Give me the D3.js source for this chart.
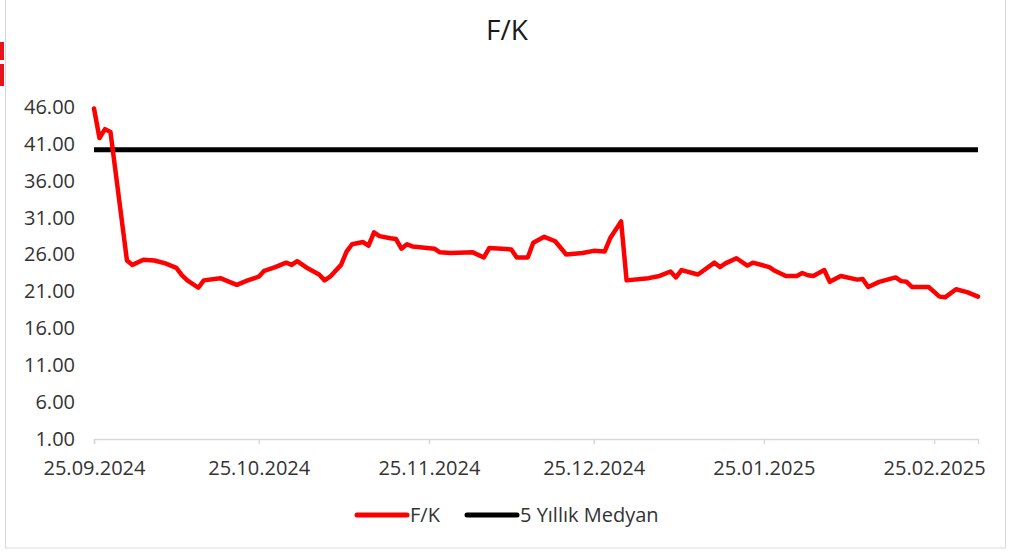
<!DOCTYPE html>
<html>
    <head>
        <meta charset="utf-8">
        <title>F/K</title>
        <script type="text/javascript" src="https://cdn.jsdelivr.net/npm/d3@7"></script>
        <style>
            body { margin: 0; background: #fff; }
            text { font-family: "Open Sans", "Liberation Sans", sans-serif; }
        </style>
    </head>
    <body>
        <script type="text/javascript">
            // veriler
            var dates = [
                '2024-09-25', '2024-09-26', '2024-09-27', '2024-09-28', '2024-10-01', '2024-10-02',
                '2024-10-04', '2024-10-06', '2024-10-08', '2024-10-10', '2024-10-11', '2024-10-12',
                '2024-10-14', '2024-10-15', '2024-10-18', '2024-10-21', '2024-10-23', '2024-10-25',
                '2024-10-26', '2024-10-28', '2024-10-30', '2024-10-31', '2024-11-01', '2024-11-03',
                '2024-11-05', '2024-11-06', '2024-11-07', '2024-11-09', '2024-11-10', '2024-11-11',
                '2024-11-13', '2024-11-14', '2024-11-15', '2024-11-16', '2024-11-18', '2024-11-19',
                '2024-11-20', '2024-11-21', '2024-11-22', '2024-11-26', '2024-11-27', '2024-11-29',
                '2024-12-03', '2024-12-05', '2024-12-06', '2024-12-10', '2024-12-11', '2024-12-13',
                '2024-12-14', '2024-12-16', '2024-12-18', '2024-12-20', '2024-12-23', '2024-12-25',
                '2024-12-27', '2024-12-28', '2024-12-30', '2024-12-31', '2025-01-04', '2025-01-06',
                '2025-01-08', '2025-01-09', '2025-01-10', '2025-01-13', '2025-01-16', '2025-01-17',
                '2025-01-18', '2025-01-20', '2025-01-22', '2025-01-23', '2025-01-26', '2025-01-27',
                '2025-01-29', '2025-01-31', '2025-02-01', '2025-02-02', '2025-02-03', '2025-02-05',
                '2025-02-06', '2025-02-08', '2025-02-11', '2025-02-12', '2025-02-13', '2025-02-15',
                '2025-02-18', '2025-02-19', '2025-02-20', '2025-02-21', '2025-02-24', '2025-02-26',
                '2025-02-27', '2025-03-01', '2025-03-03', '2025-03-05'
            ];
            var fk = [
                45.8, 41.8, 43.0, 42.6, 25.2, 24.6,
                25.3, 25.2, 24.8, 24.2, 23.2, 22.5,
                21.5, 22.5, 22.8, 21.9, 22.5, 23.0,
                23.8, 24.3, 24.9, 24.6, 25.1, 24.1,
                23.3, 22.5, 23.0, 24.6, 26.4, 27.4,
                27.7, 27.2, 29.0, 28.5, 28.2, 28.1,
                26.8, 27.4, 27.1, 26.8, 26.3, 26.2,
                26.3, 25.6, 26.9, 26.7, 25.6, 25.6,
                27.6, 28.4, 27.8, 26.0, 26.2, 26.5,
                26.4, 28.2, 30.5, 22.5, 22.8, 23.1,
                23.7, 22.9, 23.9, 23.3, 24.9, 24.3,
                24.8, 25.5, 24.5, 24.9, 24.3, 23.8,
                23.1, 23.1, 23.5, 23.2, 23.1, 23.9,
                22.3, 23.1, 22.6, 22.7, 21.6, 22.3,
                22.9, 22.4, 22.3, 21.6, 21.6, 20.3,
                20.2, 21.3, 20.9, 20.3
            ];
            var medyan = 40.2;
            var yTicks = [1, 6, 11, 16, 21, 26, 31, 36, 41, 46];
            var xTicks = ['2024-09-25', '2024-10-25', '2024-11-25', '2024-12-25', '2025-01-25', '2025-02-25'];
            var legendItems = ['F/K', '5 Yıllık Medyan'];
            var colors = ['#ff0000', '#000000'];

            var parse = d3.utcParse('%Y-%m-%d');
            var data = dates.map(function(d, i) {
                return { date: parse(d), value: fk[i] };
            });

            var svg = d3.select('body').append('svg')
                .attr('width', 1017)
                .attr('height', 553);

            // kenarlık
            svg.append('rect')
                .attr('x', 5.5).attr('y', -2)
                .attr('width', 1000).attr('height', 550)
                .attr('fill', 'none')
                .attr('stroke', '#d9d9d9');
            svg.append('path')
                .attr('d', 'M0,42 L4,42 L4,60 L0,60 Z M0,64 L4,64 L4,86 L0,86 Z')
                .attr('fill', '#e8141c');

            var x = d3.scaleUtc()
                .domain([parse('2024-09-25'), parse('2025-03-05')])
                .range([94, 978]);
            var y = d3.scaleLinear()
                .domain([1, 46])
                .range([439, 107]);

            // başlık
            svg.append('text')
                .attr('x', 507).attr('y', 40)
                .attr('text-anchor', 'middle')
                .attr('font-size', 28)
                .attr('fill', '#1a1a1a')
                .text('F/K');

            // eksenler
            var xAxis = svg.append('g')
                .attr('transform', 'translate(0,439)')
                .call(d3.axisBottom(x)
                    .tickValues(xTicks.map(parse))
                    .tickFormat(d3.utcFormat('%d.%m.%Y'))
                    .tickSize(5)
                    .tickPadding(17));
            xAxis.selectAll('path, line').attr('stroke', '#d9d9d9').attr('stroke-width', 1.5);
            xAxis.selectAll('text')
                .attr('font-size', 20)
                .attr('fill', '#333333')
                .style('font-family', '"Open Sans", sans-serif');

            var yAxis = svg.append('g')
                .attr('transform', 'translate(94,0)')
                .call(d3.axisLeft(y)
                    .tickValues(yTicks)
                    .tickFormat(d3.format('.2f'))
                    .tickSize(0)
                    .tickPadding(19));
            yAxis.select('.domain').remove();
            yAxis.selectAll('text')
                .attr('font-size', 20)
                .attr('fill', '#333333')
                .style('font-family', '"Open Sans", sans-serif');

            // medyan çizgisi
            svg.append('line')
                .attr('x1', x.range()[0]).attr('x2', x.range()[1])
                .attr('y1', y(medyan)).attr('y2', y(medyan))
                .attr('stroke', colors[1])
                .attr('stroke-width', 5);

            // F/K çizgisi
            var line = d3.line()
                .x(function(d) { return x(d.date); })
                .y(function(d) { return y(d.value); });
            svg.append('path')
                .datum(data)
                .attr('d', line)
                .attr('fill', 'none')
                .attr('stroke', colors[0])
                .attr('stroke-width', 4.5)
                .attr('stroke-linejoin', 'round')
                .attr('stroke-linecap', 'round');

            // lejant
            var legendX = [357, 467];
            legendItems.forEach(function(name, i) {
                svg.append('line')
                    .attr('x1', legendX[i]).attr('x2', legendX[i] + 50)
                    .attr('y1', 515).attr('y2', 515)
                    .attr('stroke', colors[i])
                    .attr('stroke-width', 5)
                    .attr('stroke-linecap', 'round');
                svg.append('text')
                    .attr('x', legendX[i] + 53).attr('y', 522)
                    .attr('font-size', 20)
                    .attr('fill', '#333333')
                    .text(name);
            });
        </script>
    </body>
</html>
